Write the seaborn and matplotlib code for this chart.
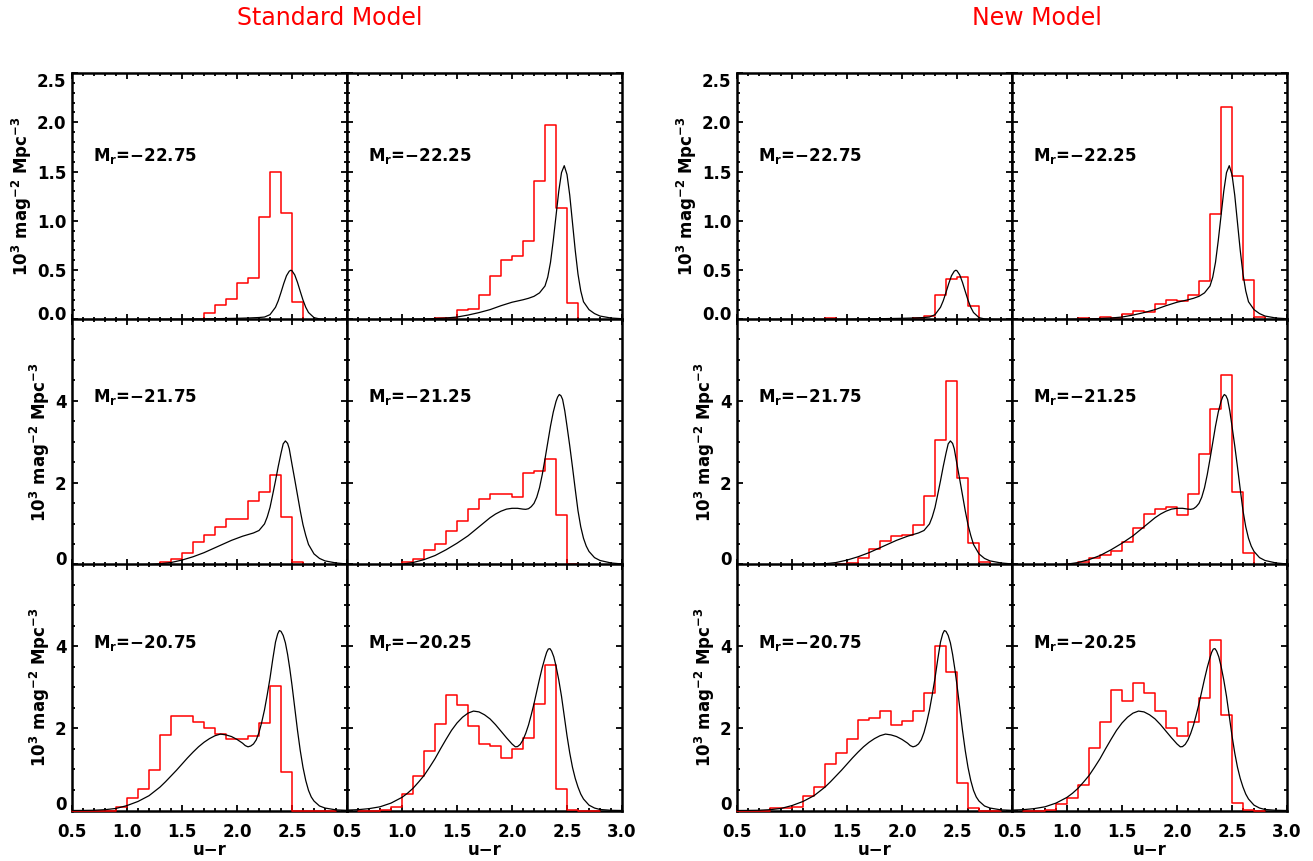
import numpy as np
import pandas as pd
import matplotlib
matplotlib.use("Agg")
import matplotlib.pyplot as plt
import seaborn as sns
from matplotlib.ticker import MultipleLocator, FixedLocator, FuncFormatter

# ------------------------------------------------------------------ data
MAG_LABELS = ["\u221222.75", "\u221222.25", "\u221221.75", "\u221221.25", "\u221220.75", "\u221220.25"]
GROUP_TITLES = ["Standard Model", "New Model"]
X_LABEL = "u\u2212r"
Y_LABEL = "10$^3$ mag$^{-2}$ Mpc$^{-3}$"
BIN_WIDTH = 0.1

# red histograms (first bin left edge, then value of each 0.1-wide bin)
STD_START = [1.2, 1.1, 1.2, 0.9, 0.5, 0.6]
STD_2275 = [0, 0, 0, 0, 0, 0.07, 0.145, 0.21, 0.37, 0.42, 1.04, 1.50, 1.08, 0.18, 0, 0]
STD_2225 = [0, 0, 0.02, 0.02, 0.10, 0.107, 0.25, 0.44, 0.60, 0.64, 0.80, 1.40, 1.97, 1.13, 0.165, 0, 0]
STD_2175 = [0, 0.08, 0.14, 0.29, 0.55, 0.73, 0.92, 1.12, 1.13, 1.55, 1.77, 2.18, 1.17, 0.08, 0, 0]
STD_2125 = [0, 0.07, 0.14, 0.37, 0.51, 0.83, 1.07, 1.37, 1.61, 1.73, 1.73, 1.65, 2.24, 2.30, 2.58, 1.22, 0.02, 0, 0, 0]
STD_2075 = [0, 0, 0, 0, 0.09, 0.31, 0.53, 0.99, 1.84, 2.30, 2.30, 2.16, 2.02, 1.86, 1.74, 1.74, 1.82, 2.14, 3.03, 0.93, 0, 0, 0, 0]
STD_2025 = [0, 0, 0.02, 0.09, 0.40, 0.85, 1.44, 2.10, 2.82, 2.56, 2.06, 1.62, 1.57, 1.27, 1.49, 1.77, 2.60, 3.53, 0.52, 0.02, 0, 0]

NEW_START = [1.2, 0.9, 1.0, 0.9, 0.5, 0.6]
NEW_2275 = [0, 0.02, 0, 0, 0, 0, 0, 0, 0, 0.02, 0.035, 0.25, 0.41, 0.43, 0.14, 0]
NEW_2225 = [0, 0, 0.014, 0.007, 0.03, 0.02, 0.06, 0.09, 0.08, 0.16, 0.20, 0.19, 0.25, 0.39, 1.07, 2.16, 1.46, 0.40, 0.03, 0]
NEW_2175 = [0, 0, 0, 0.01, 0.03, 0.06, 0.16, 0.39, 0.59, 0.71, 0.74, 0.98, 1.69, 3.04, 4.47, 2.12, 0.53, 0.07, 0]
NEW_2125 = [0, 0.02, 0.07, 0.16, 0.24, 0.35, 0.56, 0.91, 1.24, 1.37, 1.41, 1.22, 1.73, 2.69, 3.80, 4.63, 1.77, 0.29, 0, 0]
NEW_2075 = [0, 0, 0, 0.05, 0.05, 0.09, 0.35, 0.57, 1.14, 1.40, 1.73, 2.20, 2.26, 2.43, 2.08, 2.18, 2.42, 2.87, 4.00, 3.37, 0.66, 0.06, 0, 0]
NEW_2025 = [0, 0, 0.02, 0.15, 0.31, 0.63, 1.52, 2.15, 2.94, 2.66, 3.11, 2.86, 2.43, 2.00, 1.81, 2.15, 2.75, 4.15, 2.32, 0.19, 0.01, 0]

# black curves (observed colour distributions, same in both model groups)
FIT_X_2275 = [0.5, 1.0, 1.5, 1.8, 2.0, 2.1, 2.2, 2.25, 2.3, 2.35, 2.375, 2.4, 2.425, 2.45, 2.475, 2.49, 2.5,
              2.525, 2.55, 2.575, 2.6, 2.625, 2.65, 2.7, 2.75, 2.8, 2.9, 3.0]
FIT_Y_2275 = [0.0, 0.001, 0.003, 0.008, 0.012, 0.015, 0.02, 0.025, 0.049, 0.124, 0.19, 0.275, 0.365, 0.444, 0.49, 0.50, 0.494,
              0.452, 0.376, 0.285, 0.197, 0.124, 0.071, 0.019, 0.006, 0.002, 0.0, 0.0]

FIT_X_2225 = [0.5, 0.8, 1.0, 1.2, 1.3, 1.4, 1.5, 1.6, 1.7, 1.8, 1.9, 2.0, 2.1, 2.15, 2.2, 2.25, 2.3, 2.325, 2.35, 2.375,
              2.4, 2.425, 2.45, 2.475, 2.5, 2.525, 2.55, 2.575, 2.6, 2.625, 2.65, 2.7, 2.75, 2.8, 2.9, 3.0]
FIT_Y_2225 = [0.0, 0.0, 0.002, 0.005, 0.01, 0.015, 0.025, 0.045, 0.07, 0.10, 0.14, 0.175, 0.20, 0.215, 0.235, 0.27, 0.34, 0.43, 0.58, 0.80,
              1.05, 1.30, 1.49, 1.56, 1.47, 1.26, 0.98, 0.70, 0.46, 0.29, 0.18, 0.10, 0.06, 0.035, 0.015, 0.008]

FIT_X_2175 = [0.5, 0.8, 1.0, 1.2, 1.3, 1.4, 1.5, 1.6, 1.7, 1.8, 1.85, 1.9, 1.95, 2.0, 2.05, 2.1, 2.15, 2.2, 2.25, 2.275,
              2.3, 2.325, 2.35, 2.375, 2.4, 2.42, 2.44, 2.46, 2.475, 2.5, 2.525, 2.55, 2.575, 2.6, 2.625, 2.65, 2.7, 2.75,
              2.8, 2.9, 3.0]
FIT_Y_2175 = [0.0, 0.0, 0.003, 0.012, 0.03, 0.06, 0.12, 0.20, 0.30, 0.42, 0.48, 0.54, 0.60, 0.65, 0.70, 0.74, 0.78, 0.84, 1.0, 1.17,
              1.4, 1.72, 2.05, 2.4, 2.72, 2.95, 3.02, 2.96, 2.83, 2.45, 2.08, 1.70, 1.32, 0.98, 0.72, 0.50, 0.27, 0.16,
              0.10, 0.05, 0.025]

FIT_X_2125 = [0.5, 0.8, 0.9, 1.0, 1.1, 1.2, 1.3, 1.4, 1.5, 1.55, 1.6, 1.65, 1.7, 1.75, 1.8, 1.85, 1.9, 1.95, 2.0, 2.05,
              2.1, 2.125, 2.15, 2.175, 2.2, 2.225, 2.25, 2.275, 2.3, 2.325, 2.35, 2.375, 2.4, 2.415, 2.43, 2.445, 2.46, 2.48,
              2.5, 2.525, 2.55, 2.575, 2.6, 2.625, 2.65, 2.675, 2.7, 2.75, 2.8, 2.9, 3.0]
FIT_Y_2125 = [0.0, 0.002, 0.006, 0.02, 0.06, 0.13, 0.23, 0.37, 0.53, 0.62, 0.71, 0.82, 0.93, 1.04, 1.15, 1.24, 1.31, 1.36, 1.38, 1.38,
              1.36, 1.355, 1.37, 1.42, 1.5, 1.65, 1.88, 2.2, 2.58, 2.98, 3.38, 3.72, 3.98, 4.09, 4.15, 4.12, 4.03, 3.75,
              3.38, 2.9, 2.38, 1.84, 1.32, 0.93, 0.65, 0.46, 0.33, 0.18, 0.11, 0.05, 0.025]

FIT_X_2075 = [0.5, 0.6, 0.7, 0.8, 0.9, 1.0, 1.1, 1.2, 1.3, 1.35, 1.4, 1.45, 1.5, 1.55, 1.6, 1.65, 1.7, 1.75, 1.8, 1.85,
              1.9, 1.95, 2.0, 2.05, 2.075, 2.1, 2.125, 2.15, 2.175, 2.2, 2.225, 2.25, 2.275, 2.3, 2.325, 2.35, 2.37, 2.385,
              2.4, 2.42, 2.44, 2.46, 2.48, 2.5, 2.525, 2.55, 2.575, 2.6, 2.625, 2.65, 2.675, 2.7, 2.75, 2.8, 2.9, 3.0]
FIT_Y_2075 = [0.0, 0.002, 0.006, 0.02, 0.05, 0.12, 0.22, 0.36, 0.57, 0.70, 0.84, 0.98, 1.13, 1.28, 1.42, 1.55, 1.66, 1.75, 1.82, 1.86,
              1.84, 1.80, 1.73, 1.64, 1.58, 1.55, 1.57, 1.62, 1.72, 1.9, 2.15, 2.45, 2.82, 3.22, 3.68, 4.1, 4.3, 4.38,
              4.36, 4.26, 4.08, 3.8, 3.45, 3.05, 2.5, 1.95, 1.46, 1.05, 0.73, 0.49, 0.33, 0.23, 0.11, 0.06, 0.015, 0.004]

FIT_X_2025 = [0.5, 0.6, 0.7, 0.8, 0.9, 1.0, 1.05, 1.1, 1.15, 1.2, 1.25, 1.3, 1.35, 1.4, 1.45, 1.5, 1.55, 1.6, 1.65, 1.7,
              1.75, 1.8, 1.85, 1.9, 1.95, 2.0, 2.03, 2.05, 2.075, 2.1, 2.125, 2.15, 2.175, 2.2, 2.225, 2.25, 2.275, 2.3,
              2.315, 2.33, 2.345, 2.36, 2.38, 2.4, 2.425, 2.45, 2.475, 2.5, 2.525, 2.55, 2.575, 2.6, 2.625, 2.65, 2.7,
              2.75, 2.8, 2.9, 3.0]
FIT_Y_2025 = [0.01, 0.02, 0.045, 0.09, 0.18, 0.32, 0.42, 0.54, 0.69, 0.85, 1.05, 1.26, 1.5, 1.73, 1.95, 2.13, 2.27, 2.37, 2.42, 2.40,
              2.33, 2.23, 2.09, 1.93, 1.77, 1.62, 1.55, 1.555, 1.61, 1.72, 1.88, 2.08, 2.33, 2.6, 2.9, 3.2, 3.48, 3.72,
              3.85, 3.93, 3.94, 3.88, 3.74, 3.52, 3.18, 2.78, 2.3, 1.82, 1.4, 1.05, 0.78, 0.57, 0.4, 0.28, 0.13,
              0.06, 0.025, 0.005, 0.0]

STD_HISTS = [STD_2275, STD_2225, STD_2175, STD_2125, STD_2075, STD_2025]
NEW_HISTS = [NEW_2275, NEW_2225, NEW_2175, NEW_2125, NEW_2075, NEW_2025]
FIT_X = [FIT_X_2275, FIT_X_2225, FIT_X_2175, FIT_X_2125, FIT_X_2075, FIT_X_2025]
FIT_Y = [FIT_Y_2275, FIT_Y_2225, FIT_Y_2175, FIT_Y_2125, FIT_Y_2075, FIT_Y_2025]

# ------------------------------------------------------------------ style
sns.set_style("ticks")
plt.rcParams["font.family"] = ["DejaVu Sans"]
plt.rcParams["font.weight"] = "bold"
plt.rcParams["mathtext.default"] = "bf"
plt.rcParams["lines.solid_joinstyle"] = "round"
plt.rcParams["text.color"] = "black"
plt.rcParams["axes.labelcolor"] = "black"

W, H = 1313, 861
fig = plt.figure(figsize=(W / 100, H / 100), dpi=100)

GROUP_LEFT = [72, 737]
PANEL_W = 275
ROW_TOP = [73, 318.5, 564]
ROW_H = 246.5
YMAX = [2.5, 6.0, 6.0]
TEXT_Y = [0.665, 0.68, 0.68]
TITLE_X = [330, 1037]

groups = [(STD_START, STD_HISTS), (NEW_START, NEW_HISTS)]

for g, (starts, hists) in enumerate(groups):
    for r in range(3):
        for c in range(2):
            i = r * 2 + c
            left = GROUP_LEFT[g] + c * PANEL_W
            bottom = H - (ROW_TOP[r] + ROW_H)
            ax = fig.add_axes([left / W, bottom / H, PANEL_W / W, ROW_H / H])

            vals = [float(v) for v in hists[i]]
            edges = [round(starts[i] + BIN_WIDTH * k, 3) for k in range(len(vals) + 1)]
            centers = [round(e + BIN_WIDTH / 2, 3) for e in edges[:-1]]
            hdf = pd.DataFrame({"color": centers, "density": vals})
            sns.histplot(data=hdf, x="color", weights="density", bins=edges, element="step", fill=False,
                         color="#ff0000", linewidth=1.1, ax=ax, zorder=3, clip_on=False)
            cdf = pd.DataFrame({"color": FIT_X[i], "density": FIT_Y[i]})
            sns.lineplot(data=cdf, x="color", y="density", color="black", linewidth=0.9, ax=ax,
                         zorder=3.5)

            ax.set_xlim(0.5, 3.0)
            ax.set_ylim(0, YMAX[r])
            ax.xaxis.set_major_locator(MultipleLocator(0.5))
            ax.xaxis.set_minor_locator(MultipleLocator(0.1))
            if r == 0:
                ax.yaxis.set_major_locator(MultipleLocator(0.5))
                ax.yaxis.set_minor_locator(MultipleLocator(0.1))
            else:
                ax.yaxis.set_major_locator(FixedLocator([0, 2, 4, 6]))
                ax.yaxis.set_minor_locator(MultipleLocator(0.5))

            for sp in ax.spines.values():
                sp.set_linewidth(1.8)
                sp.set_color("black")
            ax.tick_params(which="both", direction="in", top=True, right=True,
                           width=1.3, colors="black", labelsize=12)
            ax.tick_params(which="major", length=4.5)
            ax.tick_params(which="minor", length=2.2)
            ax.tick_params(axis="x", pad=9)
            ax.tick_params(axis="y", pad=4)

            if r == 2:
                if c == 0:
                    ax.xaxis.set_major_formatter(FuncFormatter(lambda v, p: "" if v > 2.99 else f"{v:.1f}"))
                else:
                    ax.xaxis.set_major_formatter(FuncFormatter(lambda v, p: f"{v:.1f}"))
                ax.set_xlabel(X_LABEL, fontsize=12, fontweight="bold", labelpad=0, color="black")
            else:
                ax.tick_params(axis="x", labelbottom=False)
                ax.set_xlabel("")

            if c == 0:
                if r == 0:
                    ax.yaxis.set_major_formatter(FuncFormatter(lambda v, p: f"{v:.1f}"))
                else:
                    ax.yaxis.set_major_formatter(FuncFormatter(lambda v, p: "" if v > 5 else f"{v:.0f}"))
                ax.set_ylabel(Y_LABEL, fontsize=12, fontweight="bold", labelpad=2, color="black")
                locs = ax.yaxis.get_majorticklocs()
                ticks = ax.yaxis.get_major_ticks(len(locs))
                for loc, t in zip(locs, ticks):
                    if abs(loc) < 1e-9:
                        t.label1.set_verticalalignment("baseline")
                    if r == 0 and abs(loc - 2.5) < 1e-9:
                        t.label1.set_verticalalignment("top")
            else:
                ax.tick_params(axis="y", labelleft=False)
                ax.set_ylabel("")

            ax.text(0.076, TEXT_Y[r], "M$_r$=" + MAG_LABELS[i], transform=ax.transAxes,
                    fontsize=12, fontweight="bold", va="center", ha="left", color="black")

    fig.text(TITLE_X[g] / W, 1 - 18 / H, GROUP_TITLES[g], color="#ff0000", fontsize=17,
             fontweight="normal", ha="center", va="center")

fig.savefig("out.png", dpi=100)
